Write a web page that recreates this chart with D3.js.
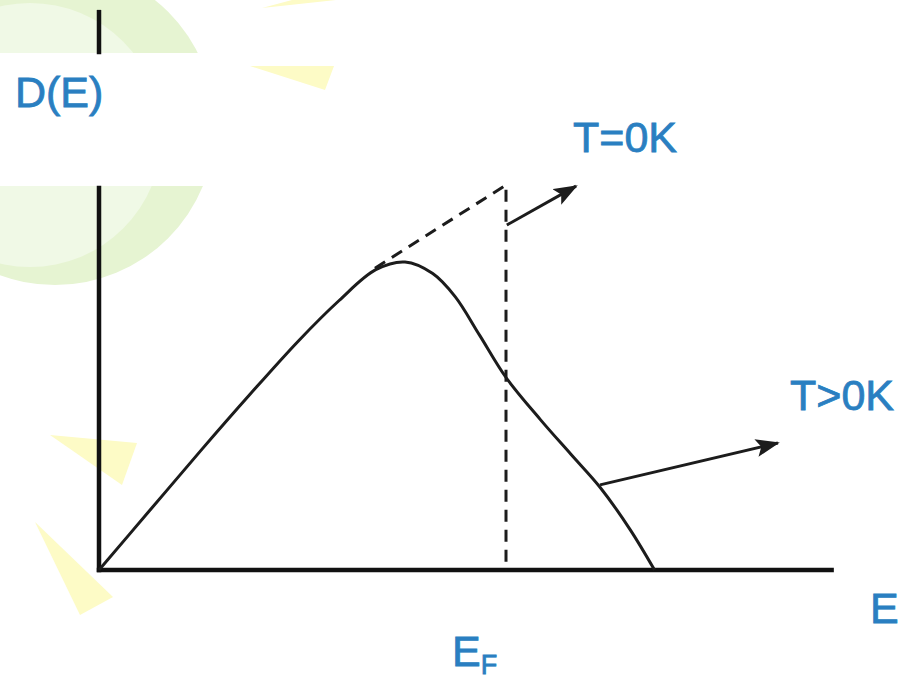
<!DOCTYPE html>
<html>
<head>
<meta charset="utf-8">
<script src="https://cdn.jsdelivr.net/npm/d3@7/dist/d3.min.js"></script>
<style>
  html, body { margin: 0; padding: 0; background: #ffffff; }
  svg { display: block; }
  text { font-family: "Liberation Sans", Arial, sans-serif; }
</style>
</head>
<body>
<svg id="chart" width="900" height="681"></svg>
<script>
// Density of states D(E) versus energy, in units of the Fermi energy E_F.
// Smeared (T > 0 K) curve.
const energy  = [0, 0.125, 0.25, 0.37, 0.49, 0.59, 0.68, 0.752, 0.82, 0.875, 0.935, 1.0, 1.085, 1.16, 1.231, 1.305, 1.365];
const dosWarm = [0, 0.155, 0.31, 0.455, 0.595, 0.7, 0.78, 0.8, 0.77, 0.71, 0.61, 0.5, 0.39, 0.3, 0.215, 0.105, 0];

// Sharp (T = 0 K) continuation up to the Fermi edge, then the drop.
const coldEnergy = [0.678, 1.0, 1.0];
const coldDos    = [0.784, 1.0, 0];

const fermiEnergy = 1.0;
const axisMax = { energy: 1.8, dos: 1.449 };

// Text labels
const axisLabels = { x: "E", y: "D(E)", fermi: "E", fermiSub: "F" };
const curveLabels = ["T=0K", "T>0K"];

const svg = d3.select("#chart");
const x = d3.scaleLinear().domain([0, 1]).range([99, 506]);
const y = d3.scaleLinear().domain([0, 1]).range([570, 185]);

const ink = "#1c1c1c";
const blue = "#2a7fc1";

// ---- faint decorative backdrop ----
const deco = svg.append("g");
deco.append("circle").attr("cx", 55).attr("cy", 125).attr("r", 160).attr("fill", "#e6f4d2");
deco.append("circle").attr("cx", 30).attr("cy", 135).attr("r", 132).attr("fill", "#f0f9e6");
deco.append("rect").attr("x", 0).attr("y", 53).attr("width", 900).attr("height", 133).attr("fill", "#ffffff");
const tri = [
  [[250, 66], [334, 66], [325, 90]],
  [[262, 8], [292, 0], [336, 0]],
  [[50, 435], [137, 443], [122, 485]],
  [[35, 522], [113, 597], [80, 615]]
];
deco.selectAll("polygon").data(tri).join("polygon")
  .attr("points", d => d.map(p => p.join(",")).join(" "))
  .attr("fill", "#fdfbc6");

// ---- arrow marker ----
svg.append("defs").append("marker")
  .attr("id", "head")
  .attr("markerUnits", "userSpaceOnUse")
  .attr("viewBox", "0 0 24 18")
  .attr("markerWidth", 24).attr("markerHeight", 18)
  .attr("refX", 22).attr("refY", 9)
  .attr("orient", "auto")
  .append("path").attr("d", "M0,0 L24,9 L0,18 L5,9 Z").attr("fill", ink);

// ---- axes ----
const axes = svg.append("g").attr("stroke", "#111").attr("stroke-width", 4.5).attr("stroke-linecap", "square");
axes.append("line")
  .attr("x1", x(0)).attr("y1", y(0)).attr("x2", x(axisMax.energy)).attr("y2", y(0));
axes.append("line")
  .attr("x1", x(0)).attr("y1", y(0)).attr("x2", x(0)).attr("y2", 188);
axes.append("line")
  .attr("x1", x(0)).attr("y1", 52).attr("x2", x(0)).attr("y2", y(axisMax.dos));

// ---- curves ----
const line = d3.line().x(d => x(d[0])).y(d => y(d[1]));

svg.append("path")
  .datum(d3.zip(coldEnergy, coldDos))
  .attr("d", line)
  .attr("fill", "none").attr("stroke", ink).attr("stroke-width", 3)
  .attr("stroke-dasharray", "12,8");

svg.append("path")
  .datum(d3.zip(energy, dosWarm))
  .attr("d", line.curve(d3.curveCatmullRom.alpha(0.5)))
  .attr("fill", "none").attr("stroke", ink).attr("stroke-width", 3)
  .attr("stroke-linejoin", "round");

// ---- annotation arrows ----
const arrows = [
  { from: [1.002, 0.896], to: [1.172, 0.997] },
  { from: [1.231, 0.221], to: [1.668, 0.330] }
];
svg.selectAll("line.arrow").data(arrows).join("line")
  .attr("class", "arrow")
  .attr("x1", d => x(d.from[0])).attr("y1", d => y(d.from[1]))
  .attr("x2", d => x(d.to[0])).attr("y2", d => y(d.to[1]))
  .attr("stroke", ink).attr("stroke-width", 3)
  .attr("marker-end", "url(#head)");

// ---- labels ----
const txt = svg.append("g").attr("fill", blue).attr("stroke", blue)
  .attr("stroke-width", 0.8).attr("font-size", 43);
txt.append("text").attr("x", 15).attr("y", 107).text(axisLabels.y);
txt.append("text").attr("x", 870).attr("y", 623).text(axisLabels.x);
txt.append("text").attr("x", 573).attr("y", 152).text(curveLabels[0]);
txt.append("text").attr("x", 790).attr("y", 410).text(curveLabels[1]);
const ef = txt.append("text").attr("x", x(fermiEnergy) - 54).attr("y", 666);
ef.append("tspan").text(axisLabels.fermi);
ef.append("tspan").attr("font-size", 27).attr("dy", 8).text(axisLabels.fermiSub);
</script>
</body>
</html>
